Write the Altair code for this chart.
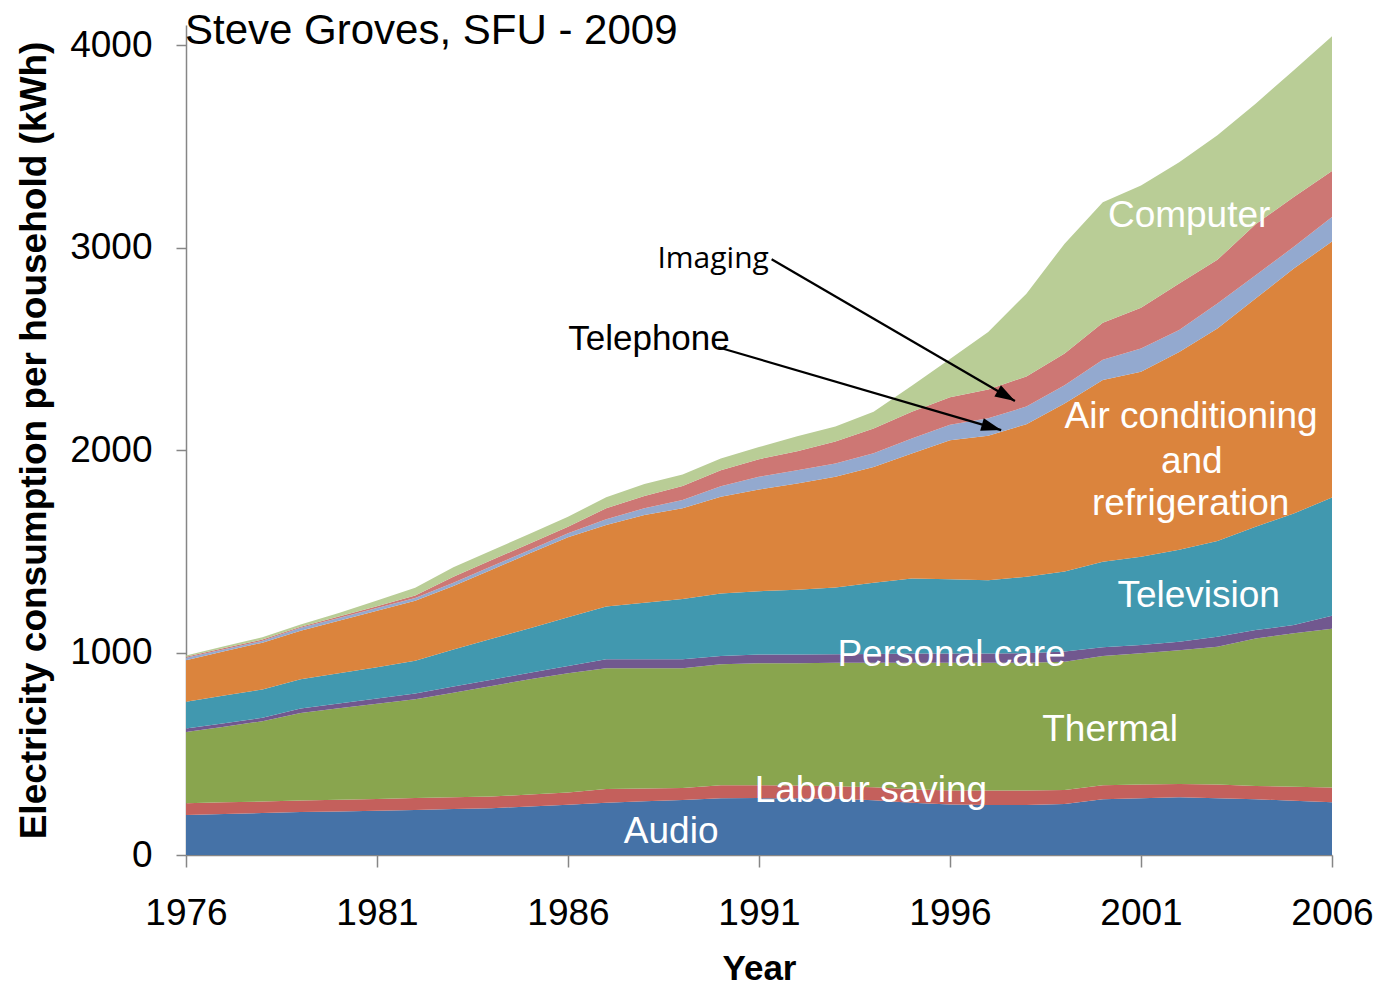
import altair as alt
import pandas as pd

# ---------------- data ----------------
years = list(range(1976, 2007))
series_names = ["Audio", "Labour saving", "Thermal", "Personal care", "Television",
                "Air conditioning and refrigeration", "Telephone", "Imaging", "Computer"]
series_colors = ["#4572A7", "#C4605C", "#89A54E", "#71588F", "#4198AF",
                 "#DB843D", "#93A9CF", "#CD7774", "#B9CD96"]

audio = [198, 203, 207, 212, 215, 218, 222, 227, 231, 240, 248, 258, 265, 272, 280, 281,
         280, 278, 270, 258, 250, 247, 247, 252, 275, 280, 285, 280, 275, 268, 260]
labour_saving = [58, 57, 57, 57, 58, 59, 59, 58, 58, 59, 61, 68, 64, 59, 65, 64,
                 63, 62, 65, 67, 68, 71, 71, 69, 69, 68, 66, 68, 66, 69, 73]
thermal = [351, 374, 397, 433, 452, 470, 488, 517, 546, 569, 589, 596, 593, 591, 597, 602,
           604, 610, 615, 625, 632, 632, 632, 634, 639, 648, 661, 681, 729, 758, 785]
personal_care = [18, 17, 17, 22, 23, 26, 29, 30, 31, 32, 36, 45, 45, 45, 41, 43,
                 43, 42, 43, 45, 45, 45, 47, 50, 43, 41, 41, 49, 41, 41, 64]
television = [132, 137, 140, 144, 150, 155, 162, 183, 202, 220, 240, 261, 279, 297, 309, 313,
              320, 330, 352, 371, 367, 362, 378, 395, 423, 436, 455, 473, 510, 551, 584]
air_conditioning = [205, 218, 231, 240, 259, 278, 296, 314, 341, 370, 396, 402, 434, 449, 478, 502,
                    525, 546, 572, 617, 687, 714, 753, 830, 897, 914, 977, 1050, 1128, 1210, 1264]
telephone = [12, 10, 9, 14, 14, 14, 14, 16, 17, 17, 19, 28, 33, 41, 52, 63,
             66, 66, 68, 74, 76, 87, 87, 91, 101, 115, 108, 123, 115, 107, 122]
imaging = [5, 6, 6, 6, 7, 9, 12, 30, 31, 32, 32, 55, 60, 69, 79, 87,
           94, 109, 122, 132, 136, 142, 149, 156, 182, 201, 230, 216, 252, 246, 227]
computer = [7, 9, 12, 11, 18, 28, 38, 46, 47, 48, 50, 54, 60, 57, 58, 60,
            73, 74, 82, 129, 189, 284, 409, 543, 595, 604, 599, 616, 595, 627, 665]

series_values = [audio, labour_saving, thermal, personal_care, television,
                 air_conditioning, telephone, imaging, computer]

x_ticks = [1976, 1981, 1986, 1991, 1996, 2001, 2006]
y_ticks = [0, 1000, 2000, 3000, 4000]

# in-chart labels (text, year, value)
label_text = ["Audio", "Labour saving", "Thermal", "Personal care", "Television",
              "refrigeration", "and", "Air conditioning", "Computer"]
label_year = [1988.70, 1993.93, 2000.19, 1996.04, 2002.51, 2002.30, 2002.33, 2002.31, 2002.26]
label_value = [58, 263, 565, 934, 1227, 1680, 1888, 2108, 3102]

# callouts with arrows
callout_text = ["Imaging", "Telephone"]
callout_year = [1989.80, 1988.12]
callout_value = [2898, 2495]
arrow_start_year = [1991.33, 1989.93]
arrow_start_value = [2943, 2508]
arrow_end_year = [1997.70, 1997.34]
arrow_end_value = [2243, 2099]
arrow_angle = [120.2, 106.3]

FONT = "Liberation Sans"

# ---------------- tables ----------------
rows = []
for i, (name, vals) in enumerate(zip(series_names, series_values)):
    for y, v in zip(years, vals):
        rows.append({"year": y, "value": v, "series": name, "idx": i})
df = pd.DataFrame(rows)

labels_df = pd.DataFrame({"year": label_year, "value": label_value, "text": label_text})
callout_df = pd.DataFrame({"year": callout_year, "value": callout_value, "text": callout_text})

arrow_rows = []
for k in range(len(callout_text)):
    arrow_rows.append({"year": arrow_start_year[k], "value": arrow_start_value[k], "arrow": k, "o": 0})
    arrow_rows.append({"year": arrow_end_year[k], "value": arrow_end_value[k], "arrow": k, "o": 1})
arrows_df = pd.DataFrame(arrow_rows)
heads_df = pd.DataFrame({"year": arrow_end_year, "value": arrow_end_value, "angle": arrow_angle})

# ---------------- chart ----------------
x_scale = alt.Scale(domain=[1976, 2006], nice=False, zero=False)
y_scale = alt.Scale(domain=[0, 4100], nice=False)

x_axis = alt.Axis(values=x_ticks, format="d", grid=False, labelFont=FONT, labelFontSize=37,
                  labelColor="black", labelBaseline="alphabetic", labelPadding=57,
                  labelFlush=False, labelOverlap=False, tickSize=12, tickColor="#868686",
                  tickWidth=1.5, domainColor="#868686", domainWidth=1.5,
                  title="Year", titleFont=FONT, titleFontSize=35, titleFontWeight="bold",
                  titleColor="black", titleBaseline="alphabetic", titleX=573, titleY=124,
                  titleAlign="center")
y_axis = alt.Axis(values=y_ticks, format="d", grid=False, labelFont=FONT, labelFontSize=37,
                  labelColor="black", labelPadding=24, tickSize=10, tickColor="#868686",
                  tickWidth=1.5, domainColor="#868686", domainWidth=1.5,
                  title="Electricity consumption per household (kWh)", titleFont=FONT,
                  titleFontSize=37, titleFontWeight="bold", titleColor="black",
                  titleAngle=270, titleBaseline="alphabetic", titleAlign="center",
                  titleX=-141, titleY=415)

areas = alt.Chart(df).mark_area(interpolate="linear").encode(
    x=alt.X("year:Q", scale=x_scale, axis=x_axis),
    y=alt.Y("value:Q", stack="zero", scale=y_scale, axis=y_axis),
    color=alt.Color("series:N", scale=alt.Scale(domain=series_names, range=series_colors),
                    legend=None),
    order=alt.Order("idx:Q", sort="ascending"),
)

labels = alt.Chart(labels_df).mark_text(font=FONT, fontSize=37, color="white",
                                        align="center", baseline="alphabetic").encode(
    x=alt.X("year:Q"), y=alt.Y("value:Q"), text="text:N")

imaging_lbl = alt.Chart(callout_df[callout_df.text == "Imaging"]).mark_text(
    font="Open Sans", fontSize=30, color="black", align="center", baseline="alphabetic").encode(
    x=alt.X("year:Q"), y=alt.Y("value:Q"), text="text:N")
telephone_lbl = alt.Chart(callout_df[callout_df.text == "Telephone"]).mark_text(
    font=FONT, fontSize=35, color="black", align="center", baseline="alphabetic").encode(
    x=alt.X("year:Q"), y=alt.Y("value:Q"), text="text:N")

arrow_lines = alt.Chart(arrows_df).mark_line(color="black", strokeWidth=2.2).encode(
    x=alt.X("year:Q"), y=alt.Y("value:Q"), detail="arrow:N", order="o:Q")

heads = alt.Chart(heads_df).mark_point(
    shape="M0,0L-0.65,2L0.65,2Z", filled=True, size=400, color="black", opacity=1,
    strokeWidth=0).encode(
    x=alt.X("year:Q"), y=alt.Y("value:Q"), angle=alt.Angle("angle:Q", scale=None))

title_txt = alt.Chart(pd.DataFrame({"t": ["Steve Groves, SFU - 2009"]})).mark_text(
    font=FONT, fontSize=42, color="black", align="left", baseline="alphabetic").encode(
    x=alt.value(-1), y=alt.value(19), text="t:N")

chart = alt.layer(areas, labels, imaging_lbl, telephone_lbl, arrow_lines, heads, title_txt).properties(
    width=1146, height=830,
    padding={"left": 186, "top": 25, "right": 44, "bottom": 131},
    autosize=alt.AutoSizeParams(type="none"),
    background="white",
).configure_view(stroke=None)

chart.save("out.html", embed_options={"renderer": "svg", "actions": False})
